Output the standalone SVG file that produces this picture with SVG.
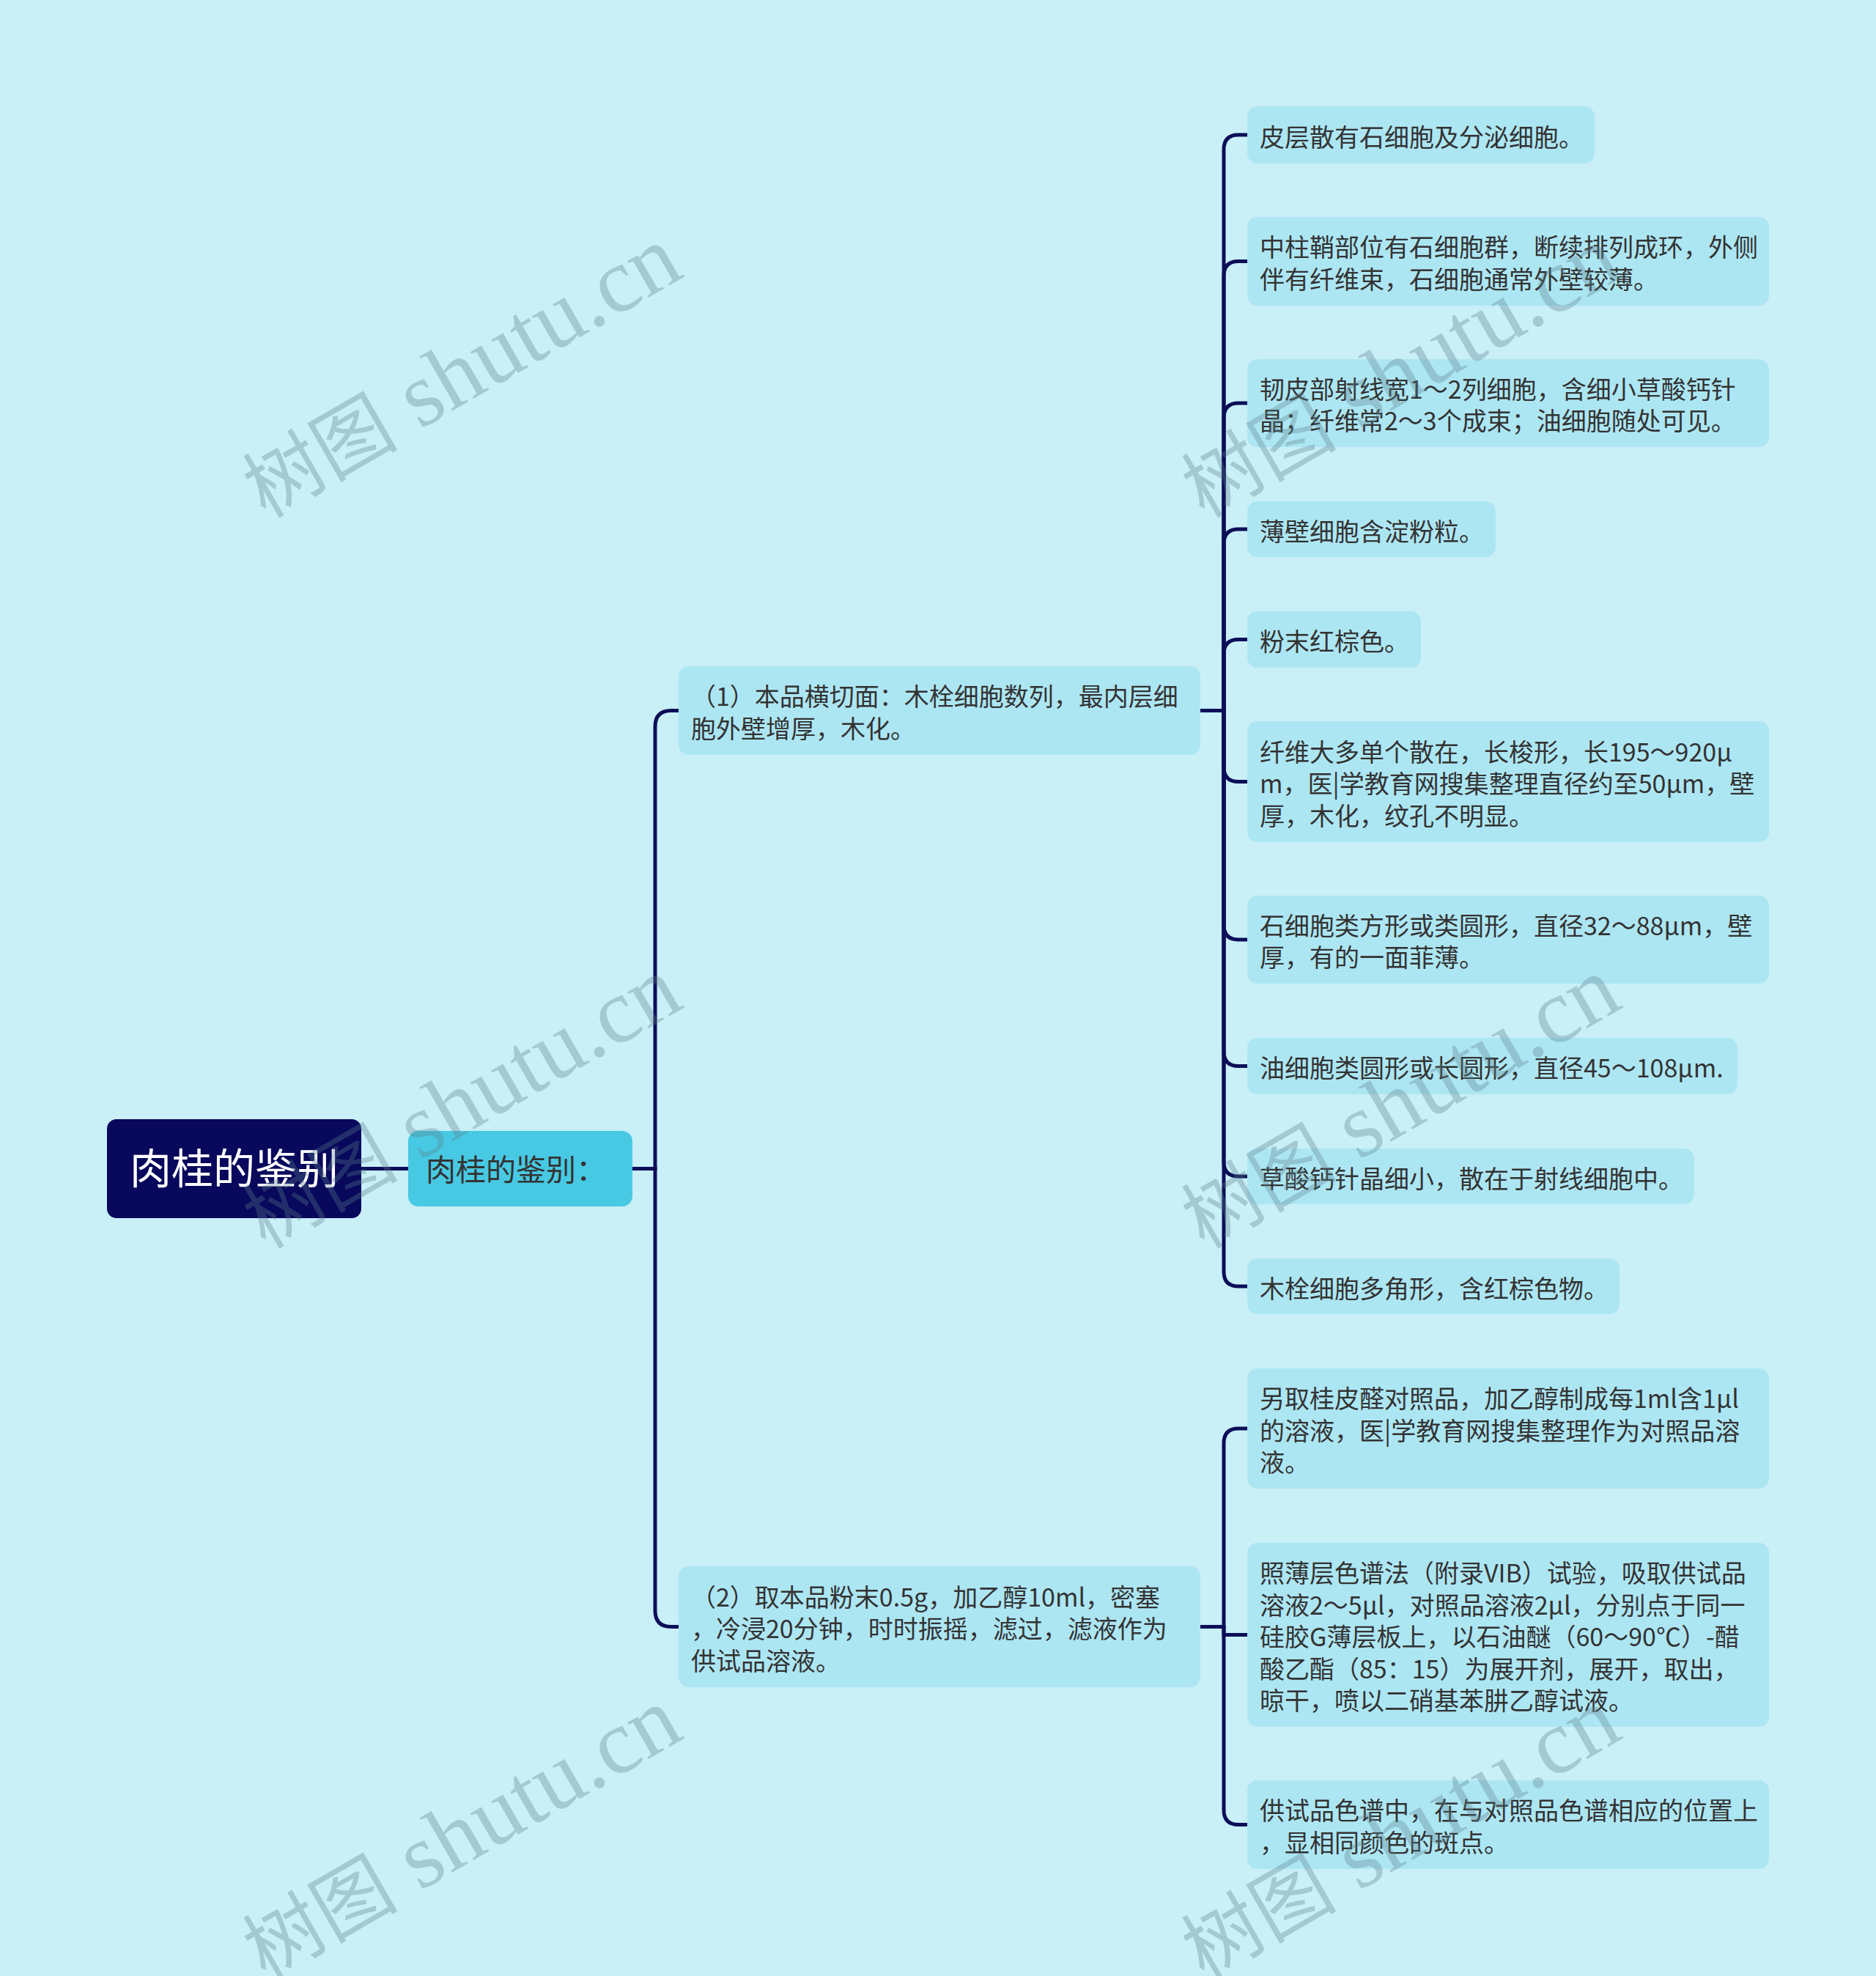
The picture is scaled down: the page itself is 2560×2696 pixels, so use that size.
<svg xmlns="http://www.w3.org/2000/svg" width="2560" height="2696" viewBox="0 0 2560 2696">
<style>
.bg{fill:#C9EFF7}
.leaf{fill:#ADE6F3}
.t{font-family:"Noto Sans CJK SC","Noto Sans",sans-serif;font-size:34px;fill:#333333}
.ln{fill:none;stroke:#0C0E58;stroke-width:5;stroke-linecap:round}
.wm{font-family:"Liberation Serif","Noto Sans CJK SC",serif;font-size:125px;fill:#5A7F8A;opacity:0.33}
.wc{font-size:106px}
</style>
<rect class="bg" x="0" y="0" width="2560" height="2696"/>
<g id="connectors">
<path class="ln" d="M493 1594.5 H557"/>
<path class="ln" d="M863 1594.5 H894 V991.5 Q894 969.5 916 969.5 H926"/>
<path class="ln" d="M863 1594.5 H894 V2197.5 Q894 2219.5 916 2219.5 H926"/>
<path class="ln" d="M1638 969.5 H1670 V204 Q1670 184 1690 184 H1702"/>
<path class="ln" d="M1670 969.5 V376.5 Q1670 356.5 1690 356.5 H1702"/>
<path class="ln" d="M1670 969.5 V570 Q1670 550 1690 550 H1702"/>
<path class="ln" d="M1670 969.5 V742 Q1670 722 1690 722 H1702"/>
<path class="ln" d="M1670 969.5 V892.5 Q1670 872.5 1690 872.5 H1702"/>
<path class="ln" d="M1670 969.5 V1046.5 Q1670 1066.5 1690 1066.5 H1702"/>
<path class="ln" d="M1670 969.5 V1262 Q1670 1282 1690 1282 H1702"/>
<path class="ln" d="M1670 969.5 V1434.5 Q1670 1454.5 1690 1454.5 H1702"/>
<path class="ln" d="M1670 969.5 V1585 Q1670 1605 1690 1605 H1702"/>
<path class="ln" d="M1670 969.5 V1735 Q1670 1755 1690 1755 H1702"/>
<path class="ln" d="M1638 2219.5 H1670 V1969 Q1670 1949 1690 1949 H1702"/>
<path class="ln" d="M1670 2219.5 V2230.5 Q1670 2230.5 1690 2230.5 H1702"/>
<path class="ln" d="M1670 2219.5 V2469.5 Q1670 2489.5 1690 2489.5 H1702"/>
</g>
<g id="root">
<rect x="146" y="1527" width="347" height="135" rx="13" fill="#08085C"/>
<text x="319.5" y="1615" text-anchor="middle" style="font-family:'Noto Sans CJK SC','Noto Sans',sans-serif;font-size:57px;fill:#FFFFFF">肉桂的鉴别</text>
</g>
<g id="main">
<rect x="557" y="1543" width="306" height="103" rx="14" fill="#48C9E3"/>
<text x="581" y="1610.5" style="font-family:'Noto Sans CJK SC','Noto Sans',sans-serif;font-size:41px;fill:#333333">肉桂的鉴别：</text>
</g>
<g id="child1">
<rect class="leaf" x="926" y="909" width="712" height="121" rx="14"/>
<text class="t"><tspan x="943" y="963.25">（1）本品横切面：木栓细胞数列，最内层细</tspan><tspan x="943" y="1006.75">胞外壁增厚，木化。</tspan></text>
</g>
<g id="child2">
<rect class="leaf" x="926" y="2137" width="712" height="165" rx="14"/>
<text class="t"><tspan x="943" y="2191.5">（2）取本品粉末0.5g，加乙醇10ml，密塞</tspan><tspan x="943" y="2235">，冷浸20分钟，时时振摇，滤过，滤液作为</tspan><tspan x="943" y="2278.5">供试品溶液。</tspan></text>
</g>
<g id="leaf1">
<rect class="leaf" x="1702" y="145" width="474" height="78" rx="14"/>
<text class="t" x="1719" y="199.5">皮层散有石细胞及分泌细胞。</text>
</g>
<g id="leaf2">
<rect class="leaf" x="1702" y="296" width="712" height="121" rx="14"/>
<text class="t"><tspan x="1719" y="350.25">中柱鞘部位有石细胞群，断续排列成环，外侧</tspan><tspan x="1719" y="393.75">伴有纤维束，石细胞通常外壁较薄。</tspan></text>
</g>
<g id="leaf3">
<rect class="leaf" x="1702" y="490" width="712" height="120" rx="14"/>
<text class="t"><tspan x="1719" y="543.75">韧皮部射线宽1～2列细胞，含细小草酸钙针</tspan><tspan x="1719" y="587.25">晶；纤维常2～3个成束；油细胞随处可见。</tspan></text>
</g>
<g id="leaf4">
<rect class="leaf" x="1702" y="684" width="339" height="76" rx="14"/>
<text class="t" x="1719" y="737.5">薄壁细胞含淀粉粒。</text>
</g>
<g id="leaf5">
<rect class="leaf" x="1702" y="834" width="237" height="77" rx="14"/>
<text class="t" x="1719" y="888">粉末红棕色。</text>
</g>
<g id="leaf6">
<rect class="leaf" x="1702" y="984" width="712" height="165" rx="14"/>
<text class="t"><tspan x="1719" y="1038.5">纤维大多单个散在，长梭形，长195～920μ</tspan><tspan x="1719" y="1082">m，医|学教育网搜集整理直径约至50μm，壁</tspan><tspan x="1719" y="1125.5">厚，木化，纹孔不明显。</tspan></text>
</g>
<g id="leaf7">
<rect class="leaf" x="1702" y="1222" width="712" height="120" rx="14"/>
<text class="t"><tspan x="1719" y="1275.75">石细胞类方形或类圆形，直径32～88μm，壁</tspan><tspan x="1719" y="1319.25">厚，有的一面菲薄。</tspan></text>
</g>
<g id="leaf8">
<rect class="leaf" x="1702" y="1416" width="669" height="77" rx="14"/>
<text class="t" x="1719" y="1470">油细胞类圆形或长圆形，直径45～108μm.</text>
</g>
<g id="leaf9">
<rect class="leaf" x="1702" y="1567" width="610" height="76" rx="14"/>
<text class="t" x="1719" y="1620.5">草酸钙针晶细小，散在于射线细胞中。</text>
</g>
<g id="leaf10">
<rect class="leaf" x="1702" y="1717" width="508" height="76" rx="14"/>
<text class="t" x="1719" y="1770.5">木栓细胞多角形，含红棕色物。</text>
</g>
<g id="leaf11">
<rect class="leaf" x="1702" y="1867" width="712" height="164" rx="14"/>
<text class="t"><tspan x="1719" y="1921">另取桂皮醛对照品，加乙醇制成每1ml含1μl</tspan><tspan x="1719" y="1964.5">的溶液，医|学教育网搜集整理作为对照品溶</tspan><tspan x="1719" y="2008">液。</tspan></text>
</g>
<g id="leaf12">
<rect class="leaf" x="1702" y="2105" width="712" height="251" rx="14"/>
<text class="t"><tspan x="1719" y="2159">照薄层色谱法（附录VIB）试验，吸取供试品</tspan><tspan x="1719" y="2202.5">溶液2～5μl，对照品溶液2μl，分别点于同一</tspan><tspan x="1719" y="2246">硅胶G薄层板上，以石油醚（60～90℃）-醋</tspan><tspan x="1719" y="2289.5">酸乙酯（85：15）为展开剂，展开，取出，</tspan><tspan x="1719" y="2333">晾干，喷以二硝基苯肼乙醇试液。</tspan></text>
</g>
<g id="leaf13">
<rect class="leaf" x="1702" y="2429" width="712" height="121" rx="14"/>
<text class="t"><tspan x="1719" y="2483.25">供试品色谱中，在与对照品色谱相应的位置上</tspan><tspan x="1719" y="2526.75">，显相同颜色的斑点。</tspan></text>
</g>
<g id="watermarks">
<text class="wm" transform="translate(362 708) rotate(-30)"><tspan class="wc">树图</tspan> shutu.cn</text>
<text class="wm" transform="translate(1643 708) rotate(-30)"><tspan class="wc">树图</tspan> shutu.cn</text>
<text class="wm" transform="translate(362 1705) rotate(-30)"><tspan class="wc">树图</tspan> shutu.cn</text>
<text class="wm" transform="translate(1643 1705) rotate(-30)"><tspan class="wc">树图</tspan> shutu.cn</text>
<text class="wm" transform="translate(362 2702) rotate(-30)"><tspan class="wc">树图</tspan> shutu.cn</text>
<text class="wm" transform="translate(1643 2702) rotate(-30)"><tspan class="wc">树图</tspan> shutu.cn</text>
</g>
</svg>
